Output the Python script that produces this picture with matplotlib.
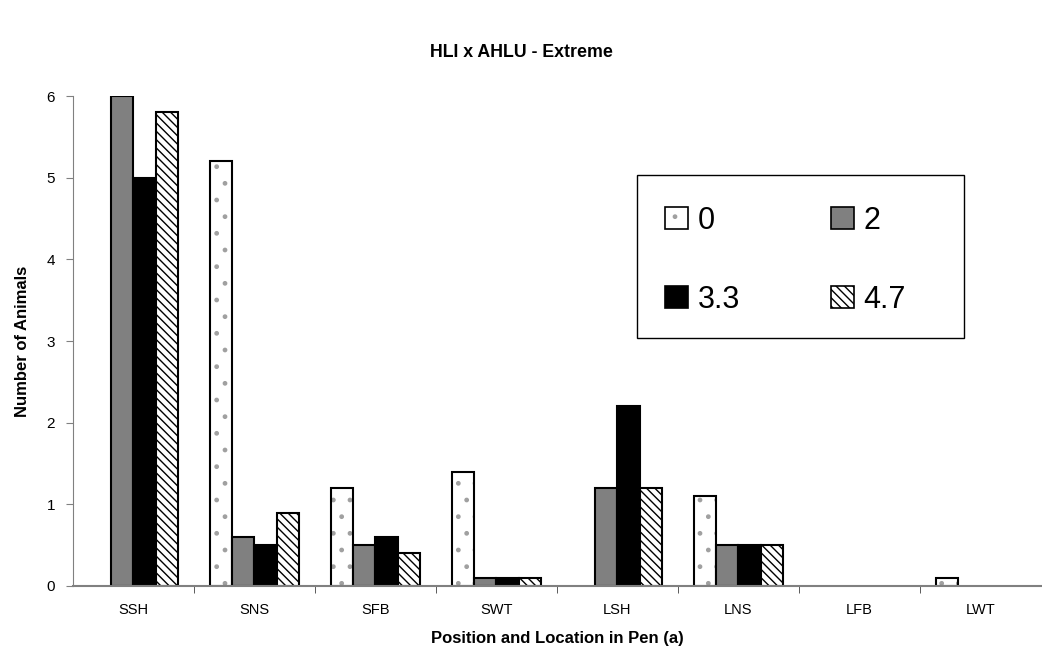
import matplotlib.pyplot as plt
import numpy as np

plt.rcParams['font.family'] = ['Liberation Sans', 'DejaVu Sans']
plt.rcParams['hatch.linewidth'] = 1.0

categories = ['SSH', 'SNS', 'SFB', 'SWT', 'LSH', 'LNS', 'LFB', 'LWT']
series_names = ['0', '2', '3.3', '4.7']
vals_0 = [0, 5.2, 1.2, 1.4, 0, 1.1, 0, 0.1]
vals_2 = [6, 0.6, 0.5, 0.1, 1.2, 0.5, 0, 0]
vals_33 = [5, 0.5, 0.6, 0.1, 2.2, 0.5, 0, 0]
vals_47 = [5.8, 0.9, 0.4, 0.1, 1.2, 0.5, 0, 0]

styles = [
    dict(facecolor='white', hatch='.', hatch_color='#a0a0a0'),
    dict(facecolor='#808080', hatch=None, hatch_color='black'),
    dict(facecolor='black', hatch=None, hatch_color='black'),
    dict(facecolor='white', hatch='\\\\\\\\', hatch_color='black'),
]

fig = plt.figure(figsize=(10.42, 6.72), dpi=100)
ax = fig.add_axes([0.070, 0.128, 0.929, 0.729])

x = np.arange(len(categories))
w = 0.185
all_vals = [vals_0, vals_2, vals_33, vals_47]
handles = []
for i, (vals, st) in enumerate(zip(all_vals, styles)):
    pos = x + (i - 1.5) * w
    v = np.array(vals, dtype=float)
    mask = v > 0
    bars = ax.bar(pos[mask], v[mask], width=w, facecolor=st['facecolor'],
                  edgecolor='black', linewidth=1.5, hatch=st['hatch'])
    for b in bars:
        b._hatch_color = plt.matplotlib.colors.to_rgba(st['hatch_color'])
    h = plt.Rectangle((0, 0), 1, 1, facecolor=st['facecolor'], edgecolor='black',
                      linewidth=1.2, hatch=st['hatch'])
    h._hatch_color = plt.matplotlib.colors.to_rgba(st['hatch_color'])
    handles.append(h)

ax.set_xlim(-0.5, 7.5)
ax.set_ylim(0, 6)
ax.set_yticks(range(0, 7))
ax.set_xticks(x)
ax.set_xticklabels(categories)
ax.set_xticks(np.arange(0.5, 7.5, 1), minor=True)
ax.tick_params(axis='x', which='major', length=0, pad=12, labelsize=10.5)
ax.tick_params(axis='x', which='minor', length=5, color='#404040', direction='out')
ax.tick_params(axis='y', length=5, color='#808080', labelsize=11, pad=8)

for s in ['top', 'right']:
    ax.spines[s].set_visible(False)
ax.spines['left'].set_color('#808080')
ax.spines['bottom'].set_color('#808080')
ax.spines['bottom'].set_linewidth(1.5)

ax.set_xlabel('Position and Location in Pen (a)', fontweight='bold', fontsize=12, labelpad=10)
ax.set_ylabel('Number of Animals', fontweight='bold', fontsize=12, labelpad=12)
fig.suptitle('HLI x AHLU - Extreme', fontweight='bold', fontsize=12.8, y=0.935)

# legend box drawn separately so the entries can sit where they do in the original
ax.add_patch(plt.Rectangle((0.583, 0.506), 0.338, 0.333, transform=ax.transAxes,
                           facecolor='white', edgecolor='black', linewidth=1.0,
                           zorder=4))
# legend fills column by column, so reorder to get rows 0 | 2 and 3.3 | 4.7
order = [0, 2, 1, 3]
leg = ax.legend([handles[k] for k in order], [series_names[k] for k in order],
                ncol=2, loc='upper left', bbox_to_anchor=(0.612, 0.776),
                fontsize=22, frameon=False,
                handlelength=0.75, handleheight=0.75, handletextpad=0.3,
                labelspacing=1.6, borderpad=0, borderaxespad=0,
                columnspacing=3.0, bbox_transform=ax.transAxes)
leg.set_zorder(5)

fig.savefig('out.png', dpi=100)
